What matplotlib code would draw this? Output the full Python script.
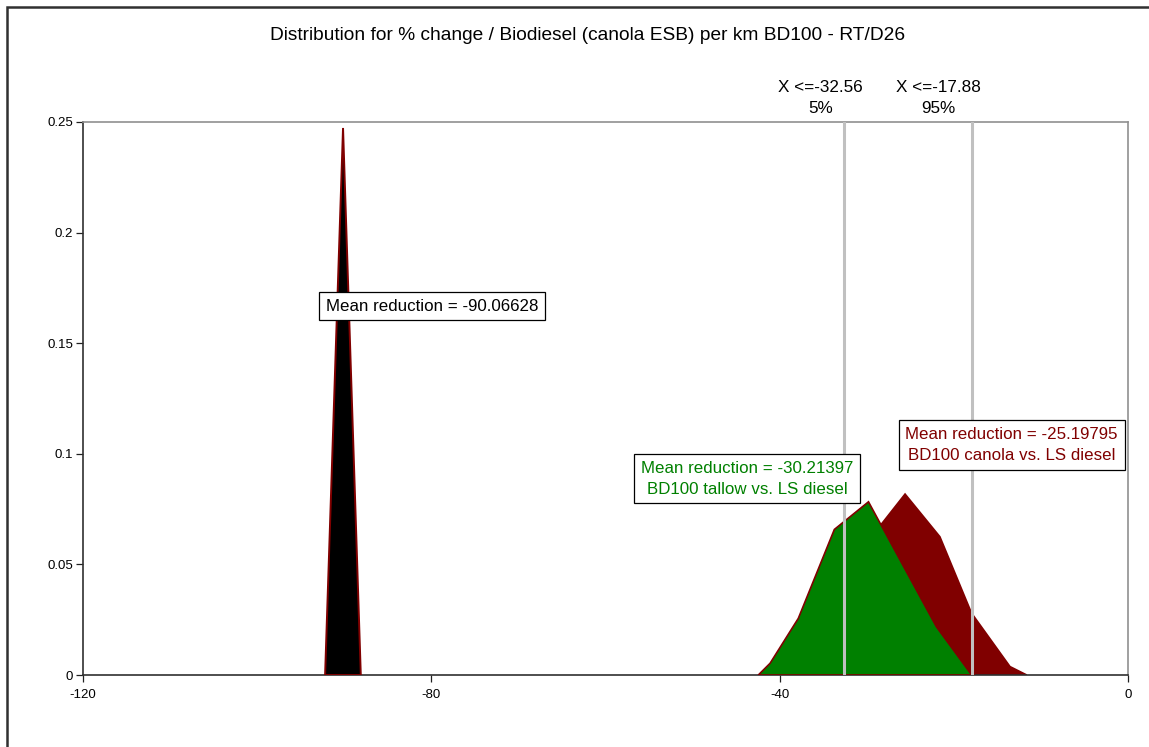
import matplotlib
matplotlib.use("Agg")
import matplotlib.pyplot as plt
from matplotlib.patches import Rectangle

plt.rcParams['font.family'] = ['Liberation Sans', 'DejaVu Sans']

# Distribution curves (% change, probability density)
tallow_x = [-42.45, -41.1, -37.86, -33.72, -29.8, -25.9, -22.0, -18.1, -17.6]
tallow_y = [0.0, 0.0053, 0.0256, 0.0658, 0.0783, 0.050, 0.0218, 0.0008, 0.0]

canola_x = [-42.0, -41.5, -37.5, -33.5, -29.6, -25.6, -21.6, -17.97, -13.55, -11.63]
canola_y = [0.0, 0.001, 0.012, 0.035, 0.0618, 0.0818, 0.0625, 0.028, 0.0038, 0.0]

ls_x = [-92.2, -90.14, -88.1]
ls_y = [0.0, 0.2473, 0.0]

percentile_values = [-32.56, -17.88]
percentile_labels = ["5%", "95%"]

mean_ls = -90.06628
mean_tallow = -30.21397
mean_canola = -25.19795

x_ticks = [-120, -80, -40, 0]
y_ticks = [0, 0.05, 0.1, 0.15, 0.2, 0.25]
y_tick_labels = ["0", "0.05", "0.1", "0.15", "0.2", "0.25"]

title = "Distribution for % change / Biodiesel (canola ESB) per km BD100 - RT/D26"

fig = plt.figure(figsize=(11.49, 7.47), dpi=100)
ax = fig.add_axes([83 / 1149, 1 - 675 / 747, (1128 - 83) / 1149, (675 - 122) / 747])

edge = '#800000'
ax.fill(canola_x, canola_y, facecolor='#800000', edgecolor=edge, lw=1.2, zorder=2)
ax.fill(tallow_x, tallow_y, facecolor='#008000', edgecolor=edge, lw=1.2, zorder=3)
ax.fill(ls_x, ls_y, facecolor='#000000', edgecolor=edge, lw=1.4, zorder=3)

# Percentile markers
offsets = [-24, -34]
for v, lab, off in zip(percentile_values, percentile_labels, offsets):
    ax.axvline(v, color='#c0c0c0', lw=2.2, zorder=4)
    ax.annotate(f"X <={v:.2f}\n{lab}", xy=(v, 1.0), xycoords=('data', 'axes fraction'),
                xytext=(off, 6), textcoords='offset pixels', ha='center', va='bottom',
                fontsize=12.3, linespacing=1.5, annotation_clip=False)

box = dict(boxstyle='square,pad=0.4', facecolor='white', edgecolor='black', lw=0.9)
ax.text(-79.9, 0.1668, f"Mean reduction = {mean_ls:.5f}", ha='center', va='center',
        fontsize=12.2, color='black', bbox=box, zorder=6)
ax.text(-43.75, 0.0888, f"Mean reduction = {mean_tallow:.5f}\nBD100 tallow vs. LS diesel",
        ha='center', va='center', fontsize=12.2, color='#008000', bbox=box,
        linespacing=1.5, zorder=6)
ax.text(-13.37, 0.104, f"Mean reduction = {mean_canola:.5f}\nBD100 canola vs. LS diesel",
        ha='center', va='center', fontsize=12.2, color='#800000', bbox=box,
        linespacing=1.5, zorder=6)

ax.set_xlim(-120, 0)
ax.set_ylim(0, 0.25)
ax.set_xticks(x_ticks)
ax.set_xticklabels([str(t) for t in x_ticks])
ax.set_yticks(y_ticks)
ax.set_yticklabels(y_tick_labels)
ax.tick_params(axis='both', labelsize=9.5, length=5, width=0.9, color='#202020')
ax.tick_params(axis='x', pad=5)
ax.tick_params(axis='y', pad=2)

for s in ['left', 'bottom']:
    ax.spines[s].set_color('#303030')
    ax.spines[s].set_linewidth(1.2)
for s in ['top', 'right']:
    ax.spines[s].set_color('#909090')
    ax.spines[s].set_linewidth(1.2)

fig.text(588 / 1149, 1 - 36 / 747, title, ha='center', va='center', fontsize=13.8)

# Outer chart frame
fig.patches.append(Rectangle((6.5 / 1149, -0.1), 2.0, 1.1 - 7.5 / 747,
                             transform=fig.transFigure, fill=False,
                             edgecolor='#303030', lw=1.8, zorder=10))

fig.savefig("out.png", dpi=100)
